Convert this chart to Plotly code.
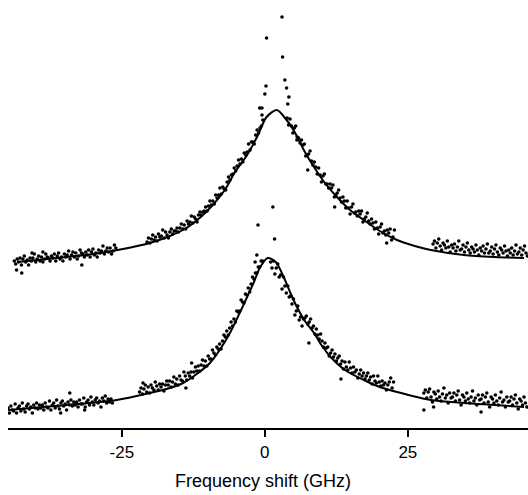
import plotly.graph_objects as go

# ---- tick labels ----
tick_values = [-25, 0, 25]
tick_labels = ["-25", "0", "25"]

# ================= upper spectrum: measured points (GHz, intensity a.u.) =================
upper_x = [
    # left wing
    -43.8, -43.55, -43.3, -43.05, -42.8, -42.55, -42.3, -42.05, -41.8, -41.55, -41.3, -41.05,
    -40.8, -40.55, -40.3, -40.05, -39.8, -39.55, -39.3, -39.05, -38.8, -38.55, -38.3, -38.05,
    -37.8, -37.55, -37.3, -37.05, -36.8, -36.55, -36.3, -36.05, -35.8, -35.55, -35.3, -35.05,
    -34.8, -34.55, -34.3, -34.05, -33.8, -33.55, -33.3, -33.05, -32.8, -32.55, -32.3, -32.05,
    -31.8, -31.55, -31.3, -31.05, -30.8, -30.55, -30.3, -30.05, -29.8, -29.55, -29.3, -29.05,
    -28.8, -28.55, -28.3, -28.05, -27.8, -27.55, -27.3, -27.05, -26.8, -26.55, -26.3, -26.05,
    -42.5, -32.0, -40.7, -38.8, -43.4,
    # rising edge
    -20.6, -20.35, -20.1, -19.85, -19.6, -19.35, -19.1, -18.85, -18.6, -18.35, -18.1, -17.85,
    -17.6, -17.35, -17.1, -16.85, -16.6, -16.35, -16.1, -15.85, -15.6, -15.35, -15.1, -14.85,
    -14.6, -14.35, -14.1, -13.85, -13.6, -13.35, -13.1, -12.85, -12.6, -12.35, -12.1, -11.85,
    -11.6, -11.35, -11.1, -10.85, -10.6, -10.35, -10.1, -9.85, -9.6, -9.35, -9.1, -8.85,
    -8.6, -8.35, -8.1, -7.85, -7.6, -7.35, -7.1, -6.85, -6.6, -6.35, -6.1, -5.85,
    -5.6, -5.35, -5.1, -4.85, -4.6, -4.35, -4.1, -3.85, -3.6, -3.35, -3.1, -2.85,
    -2.6, -2.35, -2.1, -1.85, -1.6, -1.35, -1.1, -0.85, -0.6, -0.35,
    # points above the peak
    3.0, 0.3, 3.1, 3.5, 0.2, 3.8, 0.0, 4.2, 4.0, -0.5, -0.9, -0.5,
    # falling edge
    3.9, 4.15, 4.4, 4.65, 4.9, 5.15, 5.4, 5.65, 5.9, 6.15, 6.4, 6.65,
    6.9, 7.15, 7.4, 7.65, 7.9, 8.15, 8.4, 8.65, 8.9, 9.15, 9.4, 9.65,
    9.9, 10.15, 10.4, 10.65, 10.9, 11.15, 11.4, 11.65, 11.9, 12.15, 12.4, 12.65,
    12.9, 13.15, 13.4, 13.65, 13.9, 14.15, 14.4, 14.65, 14.9, 15.15, 15.4, 15.65,
    15.9, 16.15, 16.4, 16.65, 16.9, 17.15, 17.4, 17.65, 17.9, 18.15, 18.4, 18.65,
    18.9, 19.15, 19.4, 19.65, 19.9, 20.15, 20.4, 20.65, 20.9, 21.15, 21.4, 21.65,
    21.9, 22.15, 22.4, 22.65, 21.3, 7.5, 12.2, 5.6,
    # right wing
    29.4, 29.65, 29.9, 30.15, 30.4, 30.65, 30.9, 31.15, 31.4, 31.65, 31.9, 32.15,
    32.4, 32.65, 32.9, 33.15, 33.4, 33.65, 33.9, 34.15, 34.4, 34.65, 34.9, 35.15,
    35.4, 35.65, 35.9, 36.15, 36.4, 36.65, 36.9, 37.15, 37.4, 37.65, 37.9, 38.15,
    38.4, 38.65, 38.9, 39.15, 39.4, 39.65, 39.9, 40.15, 40.4, 40.65, 40.9, 41.15,
    41.4, 41.65, 41.9, 42.15, 42.4, 42.65, 42.9, 43.15, 43.4, 43.65, 43.9, 44.15,
    44.4, 44.65, 44.9, 45.15, 45.4, 45.65, 45.9,
]
upper_y = [
    166, 163, 168, 165, 169, 162, 168, 171, 165, 167, 162, 169,
    166, 169, 173, 165, 168, 171, 166, 170, 165, 168, 173, 170,
    169, 166, 171, 169, 173, 166, 171, 174, 168, 170, 166, 173,
    170, 172, 176, 168, 172, 175, 170, 174, 168, 171, 177, 174,
    173, 170, 175, 172, 177, 170, 175, 178, 172, 174, 170, 177,
    174, 176, 181, 173, 176, 179, 175, 179, 173, 176, 182, 179,
    154, 162, 174, 175, 157,
    185, 189, 184, 188, 192, 187, 190, 186, 193, 190, 191, 197,
    189, 195, 192, 189, 195, 198, 193, 196, 196, 199, 195, 199,
    203, 198, 202, 198, 206, 203, 205, 211, 204, 210, 208, 205,
    212, 215, 212, 215, 216, 220, 216, 221, 226, 222, 226, 223,
    232, 229, 232, 239, 233, 240, 238, 237, 245, 250, 247, 252,
    253, 259, 256, 261, 267, 263, 268, 265, 274, 272, 275, 283,
    277, 285, 285, 283, 292, 297, 294, 299, 301, 307,
    410, 389, 370, 347, 341, 339, 333, 330, 323, 319, 319, 312,
    309, 302, 308, 301, 294, 299, 301, 290, 289, 284, 287, 282,
    283, 271, 272, 273, 276, 266, 262, 265, 260, 253, 259, 252,
    245, 251, 253, 243, 243, 239, 243, 239, 242, 230, 232, 234,
    237, 229, 225, 230, 226, 219, 226, 219, 213, 220, 223, 214,
    215, 211, 216, 213, 216, 205, 208, 210, 214, 206, 203, 208,
    204, 198, 205, 199, 193, 200, 203, 194, 196, 192, 197, 194,
    198, 187, 190, 197, 184, 257, 220, 287,
    183, 186, 179, 184, 188, 181, 177, 184, 182, 179, 186, 180,
    175, 182, 179, 183, 176, 180, 186, 177, 178, 182, 175, 180,
    184, 177, 174, 180, 178, 175, 182, 177, 172, 179, 176, 181,
    174, 178, 183, 174, 176, 180, 173, 178, 182, 175, 172, 179,
    177, 174, 181, 176, 171, 177, 174, 179, 172, 176, 182, 173,
    175, 179, 172, 177, 181, 174, 171,
]

# ---- upper spectrum: fitted curve ----
upper_fit_x = [-43.2, -34.6, -28.8, -24.8, -20.1, -16.6, -14.0, -11.4, -9.1, -7.0, -5.2, -3.1, -1.2,
               0.3, 2.1, 3.8, 5.2, 7.0, 8.7, 10.5, 12.6, 14.9, 17.3, 20.1, 23.1, 26.2, 29.0, 34.8,
               40.2, 45.3]
upper_fit_y = [165, 170, 174, 178, 184, 191, 198, 209, 222, 237, 255, 272, 292,
               310, 317, 307, 295, 275, 259, 244, 230, 217, 207, 196, 187, 181, 177, 172,
               170, 169]

# ================= lower spectrum: measured points =================
lower_x = [
    # left wing
    -44.9, -44.65, -44.4, -44.15, -43.9, -43.65, -43.4, -43.15, -42.9, -42.65, -42.4, -42.15,
    -41.9, -41.65, -41.4, -41.15, -40.9, -40.65, -40.4, -40.15, -39.9, -39.65, -39.4, -39.15,
    -38.9, -38.65, -38.4, -38.15, -37.9, -37.65, -37.4, -37.15, -36.9, -36.65, -36.4, -36.15,
    -35.9, -35.65, -35.4, -35.15, -34.9, -34.65, -34.4, -34.15, -33.9, -33.65, -33.4, -33.15,
    -32.9, -32.65, -32.4, -32.15, -31.9, -31.65, -31.4, -31.15, -30.9, -30.65, -30.4, -30.15,
    -29.9, -29.65, -29.4, -29.15, -28.9, -28.65, -28.4, -28.15, -27.9, -27.65, -27.4, -27.15,
    -26.9, -26.65, -34.1, -35.7, -31.5,
    # rising edge
    -21.9, -21.65, -21.4, -21.15, -20.9, -20.65, -20.4, -20.15, -19.9, -19.65, -19.4, -19.15,
    -18.9, -18.65, -18.4, -18.15, -17.9, -17.65, -17.4, -17.15, -16.9, -16.65, -16.4, -16.15,
    -15.9, -15.65, -15.4, -15.15, -14.9, -14.65, -14.4, -14.15, -13.9, -13.65, -13.4, -13.15,
    -12.9, -12.65, -12.4, -12.15, -11.9, -11.65, -11.4, -11.15, -10.9, -10.65, -10.4, -10.15,
    -9.9, -9.65, -9.4, -9.15, -8.9, -8.65, -8.4, -8.15, -7.9, -7.65, -7.4, -7.15,
    -6.9, -6.65, -6.4, -6.15, -5.9, -5.65, -5.4, -5.15, -4.9, -4.65, -4.4, -4.15,
    -3.9, -3.65, -3.4, -3.15, -2.9, -2.65, -2.4, -2.15, -1.9, -1.65, -1.4, -1.15,
    -0.9, -0.65, -0.4,
    -13.8, -21.3, -1.4, -1.7, 1.4, -1.2, 1.7, -12.8,
    # falling edge
    1.0, 1.25, 1.5, 1.75, 2.0, 2.25, 2.5, 2.75, 3.0, 3.25, 3.5, 3.75,
    4.0, 4.25, 4.5, 4.75, 5.0, 5.25, 5.5, 5.75, 6.0, 6.25, 6.5, 6.75,
    7.0, 7.25, 7.5, 7.75, 8.0, 8.25, 8.5, 8.75, 9.0, 9.25, 9.5, 9.75,
    10.0, 10.25, 10.5, 10.75, 11.0, 11.25, 11.5, 11.75, 12.0, 12.25, 12.5, 12.75,
    13.0, 13.25, 13.5, 13.75, 14.0, 14.25, 14.5, 14.75, 15.0, 15.25, 15.5, 15.75,
    16.0, 16.25, 16.5, 16.75, 17.0, 17.25, 17.5, 17.75, 18.0, 18.25, 18.5, 18.75,
    19.0, 19.25, 19.5, 19.75, 20.0, 20.25, 20.5, 20.75, 21.0, 21.25, 21.5, 21.75,
    22.0, 22.25, 22.5, 13.3, 7.7,
    # right wing
    27.8, 28.05, 28.3, 28.55, 28.8, 29.05, 29.3, 29.55, 29.8, 30.05, 30.3, 30.55,
    30.8, 31.05, 31.3, 31.55, 31.8, 32.05, 32.3, 32.55, 32.8, 33.05, 33.3, 33.55,
    33.8, 34.05, 34.3, 34.55, 34.8, 35.05, 35.3, 35.55, 35.8, 36.05, 36.3, 36.55,
    36.8, 37.05, 37.3, 37.55, 37.8, 38.05, 38.3, 38.55, 38.8, 39.05, 39.3, 39.55,
    39.8, 40.05, 40.3, 40.55, 40.8, 41.05, 41.3, 41.55, 41.8, 42.05, 42.3, 42.55,
    42.8, 43.05, 43.3, 43.55, 43.8, 44.05, 44.3, 44.55, 44.8, 45.05, 45.3, 45.55,
    45.8, 27.8, 29.5, 37.8,
]
lower_y = [
    19, 14, 21, 17, 16, 23, 14, 19, 21, 16, 24, 18,
    15, 21, 23, 18, 20, 14, 22, 19, 24, 18, 22, 19,
    22, 17, 24, 20, 19, 26, 17, 22, 24, 19, 27, 21,
    18, 24, 26, 21, 23, 17, 25, 22, 27, 21, 25, 22,
    25, 20, 27, 23, 23, 29, 20, 25, 27, 22, 30, 25,
    22, 27, 29, 24, 26, 20, 29, 26, 31, 24, 28, 25,
    28, 24, 34, 14, 17,
    35, 39, 33, 38, 42, 35, 40, 34, 42, 39, 37, 45,
    41, 37, 43, 40, 43, 36, 42, 46, 42, 46, 40, 45,
    50, 43, 48, 42, 51, 47, 46, 55, 51, 47, 54, 51,
    55, 49, 55, 60, 56, 61, 56, 62, 67, 61, 66, 61,
    71, 68, 68, 77, 74, 72, 80, 78, 83, 78, 86, 92,
    90, 96, 92, 99, 105, 101, 108, 105, 116, 115, 116, 127,
    125, 124, 133, 132, 139, 135, 143, 150, 148, 154, 154, 160,
    160, 166, 166,
    39, 44, 172, 165, 220, 202, 188, 64,
    165, 159, 166, 153, 159, 163, 150, 152, 138, 150, 141, 134,
    141, 130, 131, 123, 128, 112, 116, 121, 107, 110, 101, 108,
    109, 111, 103, 105, 108, 99, 101, 93, 98, 92, 88, 93,
    86, 80, 84, 79, 80, 71, 74, 77, 70, 73, 66, 69,
    71, 63, 66, 58, 65, 60, 57, 65, 59, 54, 60, 55,
    57, 49, 53, 57, 51, 54, 48, 51, 54, 47, 50, 43,
    51, 46, 44, 51, 45, 41, 46, 42, 44, 37, 42, 45,
    49, 39, 45, 48, 84,
    34, 37, 29, 35, 38, 30, 25, 35, 33, 28, 36, 30,
    26, 33, 39, 29, 32, 24, 34, 29, 30, 34, 26, 32,
    36, 27, 22, 32, 30, 26, 34, 28, 24, 30, 36, 26,
    29, 22, 32, 27, 28, 32, 24, 30, 34, 25, 20, 30,
    28, 24, 32, 26, 22, 29, 35, 25, 27, 20, 30, 25,
    26, 30, 22, 28, 32, 24, 18, 28, 26, 22, 30, 24,
    20, 17, 20, 15,
]

# ---- lower spectrum: fitted curve ----
lower_fit_x = [-44.9, -34.6, -25.9, -20.1, -16.6, -14.3, -11.9, -9.6, -7.9, -6.1, -4.4, -3.1, -1.9,
               -0.9, 0.5, 1.9, 3.3, 4.4, 5.6, 7.0, 8.6, 10.0, 11.5, 14.0, 17.3, 20.1, 23.1, 29.0,
               34.8, 40.2, 45.3]
lower_fit_y = [17, 22, 27, 34, 39, 44, 53, 64, 77, 94, 114, 130, 145,
               159, 169, 165, 150, 135, 120, 106, 94, 81, 70, 57, 47, 40, 35, 27,
               24, 22, 20]

fig = go.Figure()
dot = dict(color="black", size=3.6)
fig.add_trace(go.Scatter(x=upper_x, y=upper_y, mode="markers", marker=dot, showlegend=False))
fig.add_trace(go.Scatter(x=lower_x, y=lower_y, mode="markers", marker=dot, showlegend=False))
line = dict(color="black", width=2, shape="spline", smoothing=0.8)
fig.add_trace(go.Scatter(x=upper_fit_x, y=upper_fit_y, mode="lines", line=line, showlegend=False))
fig.add_trace(go.Scatter(x=lower_fit_x, y=lower_fit_y, mode="lines", line=line, showlegend=False))

fig.update_layout(
    width=528, height=495,
    margin=dict(l=8, r=0, t=0, b=67),
    paper_bgcolor="white", plot_bgcolor="white",
    font=dict(family="Liberation Sans, Arial, sans-serif", color="black", size=17),
    xaxis=dict(
        range=[-44.9, 46.0], showgrid=False, zeroline=False,
        showline=True, linecolor="black", linewidth=2,
        ticks="outside", ticklen=7, tickwidth=2, tickcolor="black",
        tickvals=tick_values, ticktext=tick_labels,
        tickfont=dict(size=17), ticklabelstandoff=1,
    ),
    yaxis=dict(range=[-1, 427], visible=False),
    annotations=[dict(
        text="Frequency shift (GHz)", xref="paper", yref="paper",
        x=0.49, y=0, yanchor="middle", xanchor="center", yshift=-53,
        showarrow=False, font=dict(size=18),
    )],
)

fig.write_html(
    "out.html",
    config={"displayModeBar": False},
    post_script="document.body.style.margin='0px';document.body.style.overflow='hidden';",
)
